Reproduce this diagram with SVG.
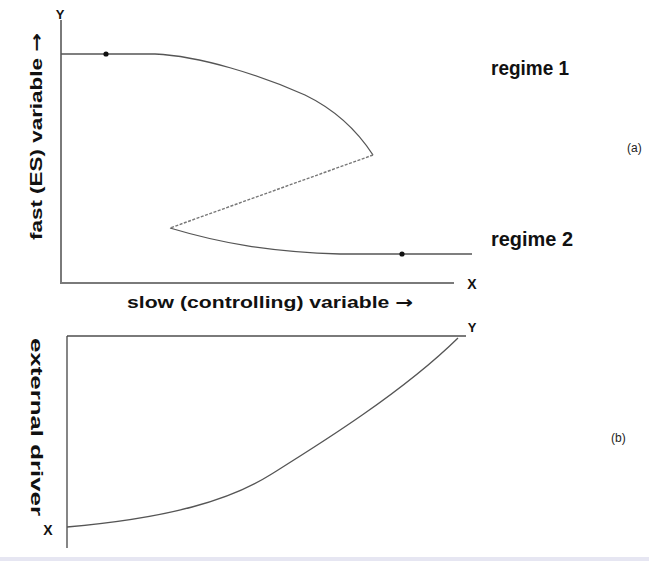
<svg xmlns="http://www.w3.org/2000/svg" width="649" height="561" viewBox="0 0 649 561">
<style>
.axis{stroke:#7a7a7a;stroke-width:2;fill:none}
.curve{stroke:#555;stroke-width:1.3;fill:none}
.dash{stroke:#777;stroke-width:1.4;fill:none;stroke-dasharray:3 1.5}
.lbl{font-family:"Liberation Sans","DejaVu Sans",sans-serif;font-weight:bold;fill:#111}
.arr{font-family:"DejaVu Sans",sans-serif;font-weight:bold}
.small{font-family:"Liberation Sans","DejaVu Sans",sans-serif;fill:#222;font-size:12px}
</style>
<rect width="649" height="561" fill="#fff"/>
<g id="plot-a">
  <g id="axes-a">
    <path class="axis" d="M61,20 V283 H454"/>
    <text class="lbl" x="60" y="19" font-size="13" text-anchor="middle">Y</text>
    <text class="lbl" x="472" y="289" font-size="14" text-anchor="middle">X</text>
    <text class="lbl" font-size="17" x="127" y="308" textLength="286" lengthAdjust="spacingAndGlyphs">slow (controlling) variable <tspan class="arr">→</tspan></text>
    <text class="lbl" font-size="17" transform="translate(42,240) rotate(-90)" x="0" y="0" textLength="207" lengthAdjust="spacingAndGlyphs">fast (ES) variable <tspan class="arr">→</tspan></text>
  </g>
  <g id="connectors-a">
    <path class="curve" d="M61,54 L155,54 C200,56 260,75 305,95 C340,112 360,135 373,155"/>
    <path class="dash" d="M373,155 L170,228"/>
    <path class="curve" d="M170,228 C220,243 270,252 340,254 L472,254"/>
  </g>
  <g id="regime1-point"><circle cx="106" cy="54" r="2.6" fill="#111"/></g>
  <g id="regime2-point"><circle cx="402" cy="254" r="2.6" fill="#111"/></g>
  <g id="regime1-label"><text class="lbl" x="491" y="75" font-size="20" textLength="78" lengthAdjust="spacingAndGlyphs">regime 1</text></g>
  <g id="regime2-label"><text class="lbl" x="491" y="246" font-size="20" textLength="82" lengthAdjust="spacingAndGlyphs">regime 2</text></g>
  <text class="small" x="627" y="152">(a)</text>
</g>
<g id="plot-b">
  <g id="axes-b">
    <path class="axis" d="M466,336 H67"/>
    <path d="M67,336 V548" stroke="#444" stroke-width="1.3" fill="none"/>
    <text class="lbl" x="472" y="332" font-size="13" text-anchor="middle">Y</text>
    <text class="lbl" x="48" y="535" font-size="14" text-anchor="middle">X</text>
    <text class="lbl" font-size="17" transform="translate(31,338) rotate(90)" x="0" y="0" textLength="178" lengthAdjust="spacingAndGlyphs">external driver</text>
  </g>
  <g id="connectors-b">
    <path class="curve" d="M67,527 C170,518 230,500 270,475 C310,450 400,395 458,338"/>
  </g>
  <text class="small" x="611" y="442">(b)</text>
</g>
<rect x="0" y="557" width="649" height="4" fill="#e6e6f2"/>
</svg>
